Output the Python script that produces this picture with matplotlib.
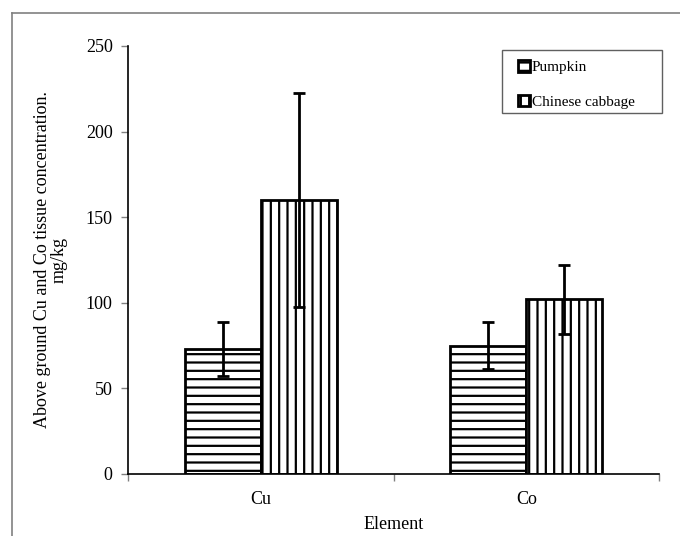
import numpy as np
import matplotlib
matplotlib.use('Agg')
import matplotlib.pyplot as plt
from matplotlib.lines import Line2D
from matplotlib.patches import Rectangle

plt.rcParams['font.family'] = ['Liberation Serif', 'DejaVu Serif']
plt.rcParams['hatch.linewidth'] = 1.6
plt.rcParams['hatch.color'] = '#222222'

elements = ['Cu', 'Co']
series = ['Pumpkin', 'Chinese cabbage']
pumpkin = [73, 75]
pumpkin_err = [16, 13.5]
cabbage = [160, 102]
cabbage_err = [62.5, 20]

W, H = 680, 536
fig = plt.figure(figsize=(6.8, 5.36), dpi=100)
ax = fig.add_axes([128 / W, 1 - 474 / H, (659 - 128) / W, (474 - 46) / H])

# outer frame (runs off the right and bottom edges)
fig.add_artist(Line2D([12 / W, 12 / W], [1 - 13 / H, -0.01], color='#808080', lw=1.2))
fig.add_artist(Line2D([12 / W, 1.01], [1 - 13 / H, 1 - 13 / H], color='#808080', lw=1.2))

x = np.arange(len(elements))
w = 0.287
err_kw = dict(ecolor='black', elinewidth=2, capsize=4.5, capthick=2)
ax.bar(x - w / 2, pumpkin, w, yerr=pumpkin_err, color='white', edgecolor='black',
       linewidth=2, hatch='--', label=series[0], error_kw=err_kw)
ax.bar(x + w / 2, cabbage, w, yerr=cabbage_err, color='white', edgecolor='black',
       linewidth=2, hatch='||', label=series[1], error_kw=err_kw)

ax.set_xlim(-0.5, 1.5)
ax.set_ylim(0, 250)
ax.set_yticks([0, 50, 100, 150, 200, 250])
ax.set_xticks([-0.5, 0.5, 1.5])
ax.set_xticklabels([])
ax.set_xticks(x, minor=True)
ax.set_xticklabels(elements, minor=True)
ax.tick_params(axis='x', which='major', length=5, color='#808080', width=1)
ax.tick_params(axis='x', which='minor', length=0, pad=12, labelsize=13)
ax.tick_params(axis='y', length=5, color='#808080', width=1, pad=6, labelsize=13)

for s in ['top', 'right']:
    ax.spines[s].set_visible(False)
ax.spines['left'].set_linewidth(1.2)
ax.spines['bottom'].set_linewidth(1.2)

ax.set_xlabel('Element', fontsize=13, labelpad=6)
ax.set_ylabel('Above ground Cu and Co tissue concentration.\nmg/kg', fontsize=13,
              labelpad=13, linespacing=0.95)

# legend box drawn separately so its padding can match the original
fig.add_artist(Rectangle((502 / W, 1 - 113 / H), 160 / W, 63 / H, transform=fig.transFigure,
                         facecolor='white', edgecolor='#606060', lw=1.0, zorder=3))
leg = fig.legend(*ax.get_legend_handles_labels(), loc='upper left',
                 bbox_to_anchor=(518 / W, 1 - 60 / H), fontsize=11,
                 handlelength=0.8, handleheight=0.8, handletextpad=0.1,
                 labelspacing=1.35, borderpad=0, borderaxespad=0, frameon=False)
leg.set_zorder(4)

fig.savefig('out.png', dpi=100)
